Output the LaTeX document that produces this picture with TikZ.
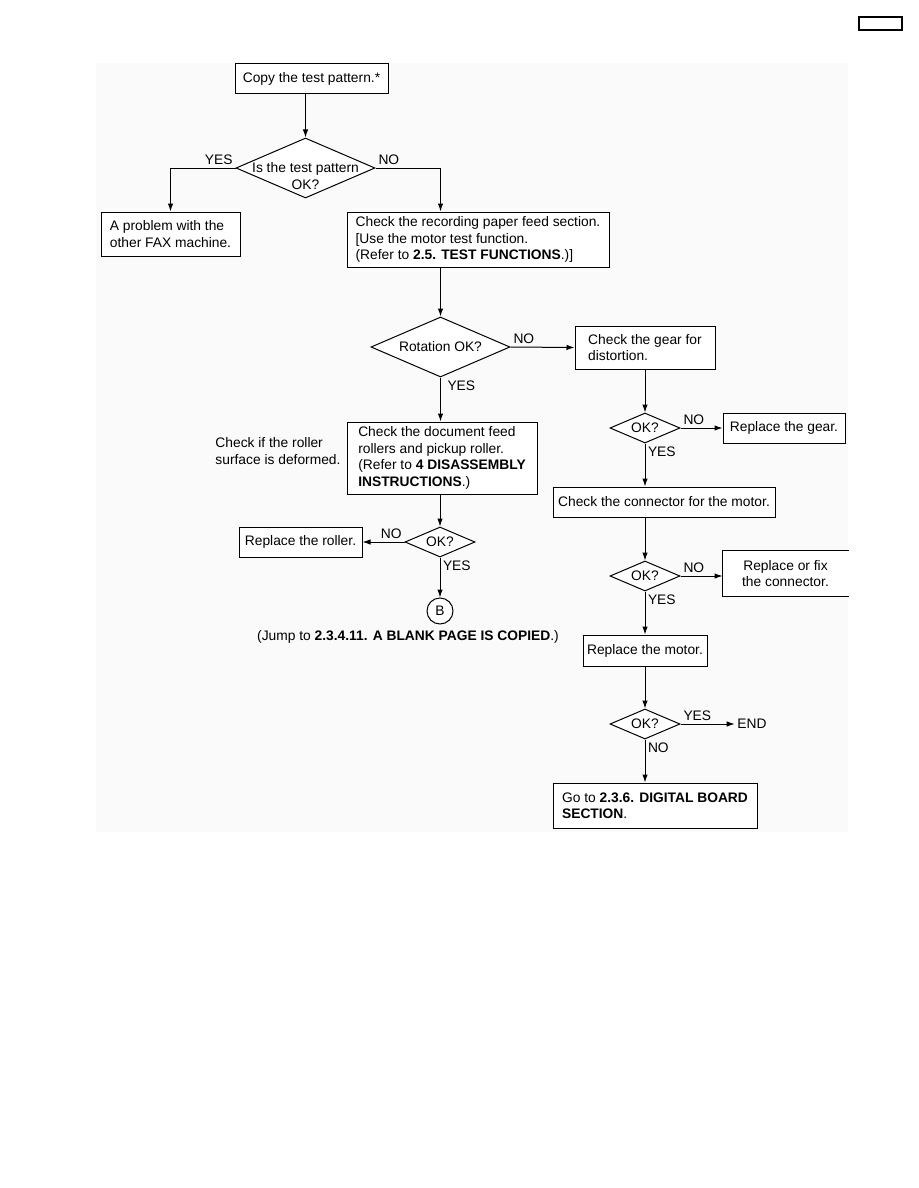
\documentclass[tikz,border=0pt]{standalone}
\usepackage{fontspec}
\setmainfont{Liberation Sans}
\usetikzlibrary{positioning,shapes.geometric,arrows.meta,calc}
\newcommand{\flowfont}{\fontsize{13.8}{16.5}\selectfont}
\tikzset{
  stepbox/.style={draw=black,line width=1pt,fill=white,align=left,font=\flowfont,inner sep=0pt},
  decision/.style={diamond,draw=black,line width=1pt,fill=white,aspect=2.33,align=center,font=\flowfont,inner sep=0pt,minimum width=70pt,minimum height=30pt},
  flow/.style={-{Latex[length=8pt,width=5.5pt]},line width=1pt,draw=black},
  answer/.style={font=\flowfont,inner sep=2.5pt},
  note/.style={font=\flowfont,align=left,inner sep=0pt}
}

\begin{document}
\begin{tikzpicture}[x=1pt,y=-1pt]
\useasboundingbox (0,0) rectangle (918,1188);
% Fondo
\fill[black!2] (96,63) rectangle (848,832);
\node[draw=black,line width=1.6pt,minimum width=43pt,minimum height=13pt,inner sep=0pt] (pagebox) at (880.5,23.5) {};

\node[stepbox,minimum width=153pt,minimum height=30pt,align=center] (copy) at (311.5,79) {Copy the test pattern.*};
\node[decision,minimum width=139pt,minimum height=60pt,label={[font=\flowfont,align=center,yshift=-8pt]center:Is the test pattern\\OK?}] (qpat) at (305.5,168) {};
\node[stepbox,minimum width=139pt,minimum height=44pt] (fax) at (170.5,234) {A problem with the\\other FAX machine.};
\node[stepbox,minimum width=262pt,minimum height=55pt] (rec) at (478,239.5) {Check the recording paper feed section.\\{}[Use the motor test function.\\(Refer to \textbf{2.5. TEST FUNCTIONS}.)]};
\node[decision,minimum width=139pt,minimum height=60pt] (rot) at (440.5,347) {Rotation OK?};
\node[stepbox,minimum width=140pt,minimum height=43pt] (gear) at (645,347.5) {Check the gear for\\distortion.};
\node[stepbox,minimum width=190pt,minimum height=72pt] (doc) at (442,458) {Check the document feed\\rollers and pickup roller.\\(Refer to \textbf{4 DISASSEMBLY}\\\textbf{INSTRUCTIONS}.)};
\node[note] (rollernote) at (278,451) {Check if the roller\\surface is deformed.};
\node[decision] (okgear) at (645,428) {OK?};
\node[stepbox,minimum width=122pt,minimum height=30pt] (gearfix) at (784,428) {Replace the gear.};
\node[stepbox,minimum width=222pt,minimum height=30pt] (conn) at (664,502) {Check the connector for the motor.};
\node[decision] (okroll) at (440,542) {OK?};
\node[stepbox,minimum width=123pt,minimum height=30pt] (roller) at (300.5,542) {Replace the roller.};
\node[circle,draw=black,line width=1pt,fill=white,minimum size=26pt,inner sep=0pt,font=\flowfont] (jumpb) at (440,611) {B};
\node[note] (jumptxt) at (408,637) {(Jump to \textbf{2.3.4.11. A BLANK PAGE IS COPIED}.)};
\node[decision] (okconn) at (645,576) {OK?};
\node[stepbox,draw=none,minimum width=125pt,minimum height=45pt,align=center] (connfix) at (785.5,573.5) {Replace or fix\\the connector.};
\draw[line width=1pt] (connfix.north east) -- (connfix.north west) -- (connfix.south west) -- (connfix.south east);
\node[stepbox,minimum width=124pt,minimum height=31pt] (motor) at (645,650.5) {Replace the motor.};
\node[decision] (okmotor) at (645,724) {OK?};
\node[answer] (endtxt) at (752,724) {END};
\node[stepbox,minimum width=204pt,minimum height=45pt] (digital) at (655,805.5) {Go to \textbf{2.3.6. DIGITAL BOARD}\\\textbf{SECTION}.};

% Conexiones
\draw[flow] (copy.south -| qpat.north) -- (qpat.north);
\draw[flow] (qpat.west) node[answer,above left] (yesfax) {YES} -| (fax.north);
\draw[flow] (qpat.east) node[answer,above right] (norec) {NO} -| (rec.north -| rot.north);
\draw[flow] (rec.south -| rot.north) -- (rot.north);
\draw[flow] (rot.east) node[answer,above right] (nogear) {NO} -- (gear.west);
\draw[flow] (rot.south) node[answer,below right,xshift=4pt] (yesdoc) {YES} -- (rot.south |- doc.north);
\draw[flow] (gear.south) -- (okgear.north);
\draw[flow] (okgear.east) node[answer,above right] (nogearfix) {NO} -- (gearfix.west);
\draw[flow] (okgear.south) node[answer,below right] (yesconn) {YES} -- (okgear.south |- conn.north);
\draw[flow] (doc.south -| okroll.north) -- (okroll.north);
\draw[flow] (okroll.west) node[answer,above left] (noroll) {NO} -- (roller.east);
\draw[flow] (okroll.south) node[answer,below right] (yesb) {YES} -- (jumpb.north);
\draw[flow] (conn.south -| okconn.north) -- (okconn.north);
\draw[flow] (okconn.east) node[answer,above right] (nofix) {NO} -- (okconn.east -| connfix.west);
\draw[flow] (okconn.south) node[answer,below right] (yesmotor) {YES} -- (motor.north);
\draw[flow] (motor.south) -- (okmotor.north);
\draw[flow] (okmotor.east) node[answer,above right] (yesend) {YES} -- (endtxt.west);
\draw[flow] (okmotor.south) node[answer,below right] (nodig) {NO} -- (okmotor.south |- digital.north);
\end{tikzpicture}
\end{document}
